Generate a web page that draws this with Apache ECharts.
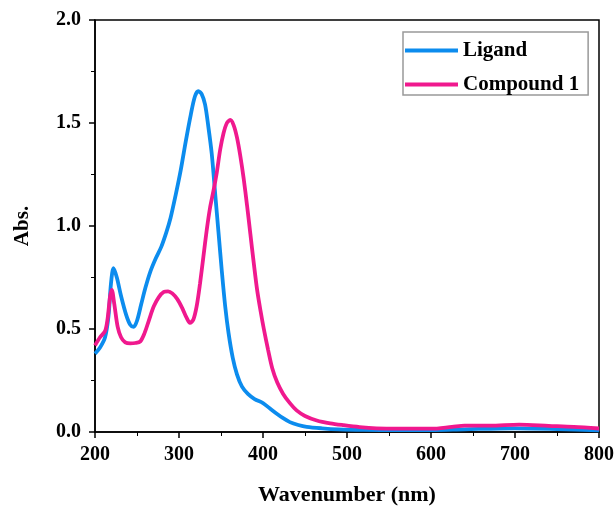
<!DOCTYPE html>
<html>
<head>
<meta charset="utf-8">
<script src="https://cdn.jsdelivr.net/npm/echarts@6/dist/echarts.min.js"></script>
<style>
  html, body { margin: 0; padding: 0; background: #fff; }
  #chart { width: 616px; height: 506px; }
</style>
</head>
<body>
<div id="chart"></div>
<script>
// UV-Vis absorption spectra: [wavelength (nm), absorbance]
const seriesNames = ['Ligand', 'Compound 1'];

const ligand = [
  [200,0.38],[206,0.41],[212,0.46],[216,0.56],[219,0.72],[222,0.795],[226,0.75],[231,0.66],
  [237,0.57],[242,0.52],[246,0.51],[250,0.54],[255,0.62],[260,0.70],[266,0.78],[272,0.84],
  [279,0.90],[285,0.97],[290,1.04],[296,1.15],[302,1.27],[308,1.41],[314,1.54],[319,1.63],
  [323,1.655],[327,1.64],[331,1.59],[335,1.48],[339,1.35],[343,1.16],[347,0.97],[351,0.78],
  [355,0.61],[359,0.48],[364,0.36],[369,0.28],[375,0.22],[382,0.185],[390,0.16],[400,0.14],
  [408,0.115],[416,0.09],[424,0.067],[432,0.048],[442,0.034],[452,0.025],[470,0.018],[490,0.013],
  [520,0.01],[560,0.009],[600,0.009],[640,0.013],[700,0.018],[750,0.014],[800,0.008]
];

const compound1 = [
  [200,0.42],[206,0.46],[212,0.49],[215,0.55],[218,0.66],[220,0.69],[223,0.62],[227,0.51],
  [231,0.46],[236,0.435],[242,0.43],[248,0.432],[254,0.44],[259,0.48],[264,0.54],[270,0.61],
  [276,0.655],[282,0.68],[287,0.683],[292,0.673],[298,0.645],[304,0.6],[309,0.555],[313,0.53],
  [317,0.545],[321,0.61],[325,0.72],[329,0.85],[333,0.98],[337,1.09],[341,1.17],[345,1.26],
  [349,1.37],[353,1.45],[357,1.5],[361,1.515],[365,1.49],[369,1.43],[373,1.34],[377,1.23],
  [381,1.10],[385,0.96],[389,0.82],[393,0.69],[397,0.59],[401,0.5],[406,0.4],[411,0.31],
  [417,0.24],[424,0.185],[432,0.14],[440,0.105],[450,0.078],[464,0.056],[480,0.042],[496,0.033],
  [515,0.024],[535,0.018],[560,0.016],[600,0.016],[625,0.025],[640,0.031],[670,0.031],[705,0.036],
  [740,0.03],[770,0.025],[800,0.017]
];

const colors = ['#0c8cee', '#f0198e'];
const font = '"Liberation Serif", "Times New Roman", serif';

const chart = echarts.init(document.getElementById('chart'), null, { renderer: 'canvas' });

chart.setOption({
  animation: false,
  backgroundColor: '#ffffff',
  grid: {
    left: 95, right: 17, top: 20, bottom: 74,
    containLabel: false, outerBoundsMode: 'none',
    show: true, borderColor: '#000', borderWidth: 1.5, backgroundColor: 'transparent'
  },
  legend: {
    orient: 'vertical',
    left: 403, top: 32,
    data: seriesNames,
    icon: 'rect',
    itemWidth: 53, itemHeight: 4,
    itemGap: 13,
    padding: [8, 9, 0, 2],
    borderColor: '#999', borderWidth: 1.5,
    textStyle: { fontFamily: font, fontWeight: 'bold', fontSize: 21, color: '#000' }
  },
  xAxis: {
    type: 'value',
    min: 200, max: 800, interval: 100,
    name: 'Wavenumber (nm)',
    nameLocation: 'middle', nameGap: 52,
    nameTextStyle: { fontFamily: font, fontWeight: 'bold', fontSize: 22, color: '#000' },
    axisLine: { show: true, lineStyle: { color: '#000', width: 1.5 } },
    axisTick: { show: true, inside: false, length: 6, lineStyle: { color: '#000', width: 1.5 } },
    minorTick: { show: true, splitNumber: 2, length: 4, lineStyle: { color: '#000', width: 1 } },
    splitLine: { show: false },
    axisLabel: { margin: 13, fontFamily: font, fontWeight: 'bold', fontSize: 20, color: '#000' }
  },
  yAxis: {
    type: 'value',
    min: 0, max: 2, interval: 0.5,
    name: 'Abs.',
    nameLocation: 'middle', nameGap: 62,
    nameTextStyle: { fontFamily: font, fontWeight: 'bold', fontSize: 21, color: '#000' },
    axisLine: { show: true, lineStyle: { color: '#000', width: 1.5 } },
    axisTick: { show: true, inside: false, length: 6, lineStyle: { color: '#000', width: 1.5 } },
    minorTick: { show: true, splitNumber: 2, length: 4, lineStyle: { color: '#000', width: 1 } },
    splitLine: { show: false },
    axisLabel: {
      margin: 14, fontFamily: font, fontWeight: 'bold', fontSize: 20, color: '#000',
      formatter: v => v.toFixed(1)
    }
  },
  series: [
    {
      name: seriesNames[0], type: 'line', data: ligand, smooth: 0.3,
      showSymbol: false, color: colors[0],
      lineStyle: { width: 3.8, color: colors[0] }, z: 2
    },
    {
      name: seriesNames[1], type: 'line', data: compound1, smooth: 0.3,
      showSymbol: false, color: colors[1],
      lineStyle: { width: 3.8, color: colors[1] }, z: 3
    }
  ]
});
</script>
</body>
</html>
